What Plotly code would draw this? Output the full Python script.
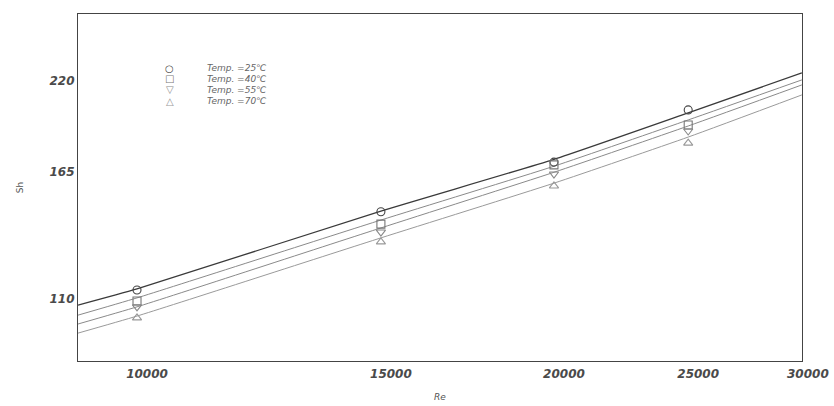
import plotly.graph_objects as go

# Reynolds numbers of the measured points
re_points = [10000, 15000, 20000, 25000]

# Measured Sherwood numbers at each temperature
sh_25 = [113.2, 145.2, 170.0, 200.7]
sh_40 = [109.3, 139.6, 168.5, 191.3]
sh_55 = [107.3, 136.1, 163.7, 187.7]
sh_70 = [103.6, 131.9, 157.6, 180.6]

# Correlation curves, sampled across the plotted Re span
re_curve = [9066, 10000, 15000, 20000, 25000, 30200]
fit_25 = [107.9, 113.6, 145.5, 171.5, 198.8, 225.8]
fit_40 = [104.5, 110.4, 141.4, 167.8, 194.4, 220.8]
fit_55 = [101.6, 107.3, 137.9, 164.6, 190.7, 217.3]
fit_70 = [98.7, 104.2, 133.6, 159.0, 184.1, 210.5]

labels = ["Temp. =25℃", "Temp. =40℃", "Temp. =55℃", "Temp. =70℃"]
symbols = ["circle-open", "square-open", "triangle-down-open", "triangle-up-open"]
key_glyphs = ["○", "□", "▽", "△"]

x_ticks = [10000, 15000, 20000, 25000, 30000]
y_ticks = [110, 165, 220]

fig = go.Figure()

fits = [fit_25, fit_40, fit_55, fit_70]
line_colors = ["#3a3a3a", "#8a8a8a", "#8a8a8a", "#9a9a9a"]
line_widths = [1.3, 1.0, 1.0, 1.0]
for f, c, w in zip(fits, line_colors, line_widths):
    fig.add_trace(go.Scatter(
        x=re_curve, y=f, mode="lines", showlegend=False,
        line=dict(color=c, width=w, shape="spline", smoothing=0.5),
        hoverinfo="skip",
    ))

series = [sh_25, sh_40, sh_55, sh_70]
marker_colors = ["#444444", "#777777", "#888888", "#999999"]
for s, lab, sym, c in zip(series, labels, symbols, marker_colors):
    fig.add_trace(go.Scatter(
        x=re_points, y=s, mode="markers", name=lab, showlegend=False,
        marker=dict(symbol=sym, size=8, color=c, line=dict(color=c, width=1.1)),
    ))

# Compact key in the upper-left corner of the plot area
row_y = [0.844, 0.813, 0.781, 0.749]
for glyph, lab, c, yy in zip(key_glyphs, labels, marker_colors, row_y):
    fig.add_annotation(
        xref="paper", yref="paper", x=0.127, y=yy, text=glyph,
        showarrow=False, xanchor="center", yanchor="middle",
        font=dict(family="DejaVu Sans", size=10, color=c),
    )
    fig.add_annotation(
        xref="paper", yref="paper", x=0.175, y=yy, text=lab,
        showarrow=False, xanchor="left", yanchor="middle",
        font=dict(family="DejaVu Sans", size=9, color="#666666", style="italic"),
    )

axis_font = dict(family="DejaVu Sans", size=12, color="#4a4a4a",
                 style="italic", weight="bold")

fig.update_xaxes(
    type="log", range=[3.9574, 4.4801], automargin=False,
    tickvals=x_ticks, ticktext=[str(v) for v in x_ticks],
    tickfont=axis_font, ticks="", ticklabelshift=10, ticklabelstandoff=1,
    showgrid=False, zeroline=False,
    showline=True, mirror=True, linecolor="#444444", linewidth=1.2,
    title=dict(text="Re", font=dict(family="DejaVu Sans", size=9,
                                     color="#555555", style="italic"),
               standoff=14),
)
fig.update_yaxes(
    type="log", range=[1.9558, 2.4350], automargin=False,
    tickvals=y_ticks, ticktext=[str(v) for v in y_ticks],
    tickfont=axis_font, ticks="", ticklabelstandoff=0,
    showgrid=False, zeroline=False,
    showline=True, mirror=True, linecolor="#444444", linewidth=1.2,
    title=dict(text="Sh", font=dict(family="DejaVu Sans", size=9,
                                     color="#555555"),
               standoff=24),
)

fig.update_layout(
    width=834, height=406,
    margin=dict(l=78, r=32, t=14, b=45),
    paper_bgcolor="white", plot_bgcolor="white",
    showlegend=False,
)

fig.write_html("out.html")
